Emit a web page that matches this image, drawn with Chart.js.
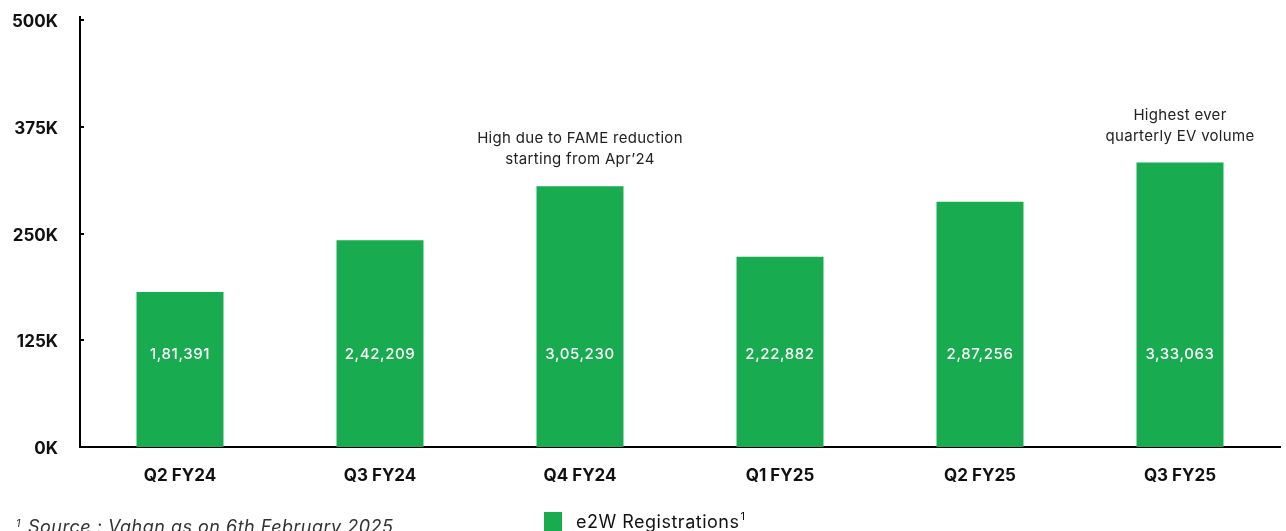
<!DOCTYPE html>
<html>
<head>
<meta charset="utf-8">
<script src="https://cdn.jsdelivr.net/npm/chart.js@4.4.1/dist/chart.umd.min.js"></script>
<style>
  html, body { margin: 0; padding: 0; background: #ffffff; }
  #wrap { width: 1286px; height: 531px; position: relative; }
</style>
</head>
<body>
<div id="wrap"><canvas id="c" width="1286" height="531"></canvas></div>
<script>
const categories = ['Q2 FY24', 'Q3 FY24', 'Q4 FY24', 'Q1 FY25', 'Q2 FY25', 'Q3 FY25'];
const registrations = [181391, 242209, 305230, 222882, 287256, 333063];
const yTicks = [0, 125000, 250000, 375000, 500000];
const notes = [
  { index: 2, lines: ['High due to FAME reduction', 'starting from Apr\u201924'] },
  { index: 5, lines: ['Highest ever', 'quarterly EV volume'] }
];
const seriesName = 'e2W Registrations';
const seriesNoteMark = '1';
const footnote = 'Source : Vahan as on 6th February 2025';

const GREEN = '#19AB50';
const FONT = 'Inter, "Open Sans", sans-serif';

function indianFormat(n) {
  const s = String(Math.round(n));
  if (s.length <= 3) return s;
  const last3 = s.slice(-3);
  let rest = s.slice(0, -3);
  const parts = [];
  while (rest.length > 2) { parts.unshift(rest.slice(-2)); rest = rest.slice(0, -2); }
  if (rest) parts.unshift(rest);
  return parts.join(',') + ',' + last3;
}

const overlay = {
  id: 'overlay',
  afterDatasetsDraw(chart) {
    const ctx = chart.ctx;
    const meta = chart.getDatasetMeta(0);
    const y = chart.scales.y;
    const x = chart.scales.x;
    const area = chart.chartArea;
    ctx.save();
    // value labels inside bars
    ctx.fillStyle = '#ffffff';
    ctx.font = '500 15px ' + FONT;
    ctx.letterSpacing = '0.6px';
    ctx.textAlign = 'center';
    ctx.textBaseline = 'middle';
    const labelY = y.getPixelForValue(108000);
    meta.data.forEach((bar, i) => {
      ctx.fillText(indianFormat(registrations[i]), bar.x, labelY);
    });
    // annotations
    ctx.fillStyle = '#222222';
    ctx.font = '400 15px ' + FONT;
    ctx.letterSpacing = '0.3px';
    ctx.textBaseline = 'alphabetic';
    notes.forEach(n => {
      const bar = meta.data[n.index];
      const top = bar.y;
      const cnt = n.lines.length;
      n.lines.forEach((ln, k) => {
        ctx.fillText(ln, x.getPixelForValue(n.index), top - 22 - (cnt - 1 - k) * 21);
      });
    });
    // y axis line slightly extended above top tick, with inward tick stubs
    ctx.strokeStyle = '#000';
    ctx.lineWidth = 2;
    ctx.beginPath();
    ctx.moveTo(area.left, area.top - 4);
    ctx.lineTo(area.left, area.top + 1);
    ctx.stroke();
    yTicks.forEach(v => {
      const py = Math.round(y.getPixelForValue(v));
      ctx.beginPath();
      ctx.moveTo(area.left, py);
      ctx.lineTo(area.left + 4, py);
      ctx.stroke();
    });
    // legend
    const ds = chart.data.datasets[0];
    ctx.fillStyle = ds.backgroundColor;
    ctx.fillRect(544, 512, 18, 19);
    ctx.fillStyle = '#111111';
    ctx.textAlign = 'left';
    ctx.textBaseline = 'alphabetic';
    ctx.font = '400 18px ' + FONT;
    ctx.letterSpacing = '0.5px';
    ctx.fillText(ds.label, 576, 528);
    const lw = ctx.measureText(ds.label).width;
    ctx.font = '400 11px ' + FONT;
    ctx.letterSpacing = '0px';
    ctx.fillText(seriesNoteMark, 576 + lw + 1, 520);
    // footnote
    ctx.fillStyle = '#333333';
    ctx.font = 'italic 400 11px ' + FONT;
    ctx.fillText('1', 16, 527);
    ctx.font = 'italic 400 18px ' + FONT;
    ctx.letterSpacing = '0.5px';
    ctx.fillText(footnote, 28, 533);
    ctx.restore();
  }
};

new Chart(document.getElementById('c'), {
  type: 'bar',
  data: {
    labels: categories,
    datasets: [{
      label: seriesName,
      data: registrations,
      backgroundColor: GREEN,
      borderWidth: 0,
      barPercentage: 0.435,
      categoryPercentage: 1.0
    }]
  },
  options: {
    responsive: false,
    animation: false,
    layout: { padding: { top: 20, right: 6, left: 0, bottom: 0 } },
    plugins: {
      tooltip: { enabled: false },
      legend: { display: false }
    },
    scales: {
      x: {
        grid: { display: false, drawTicks: false },
        border: { display: true, color: '#000', width: 2 },
        ticks: {
          color: '#111', padding: 19,
          font: { family: FONT, size: 17, weight: '700' }
        },
        afterFit(scale) { scale.height = 84; scale.paddingLeft = 0; scale.paddingRight = 0; }
      },
      y: {
        min: 0, max: 500000,
        afterBuildTicks(scale) { scale.ticks = yTicks.map(v => ({ value: v })); },
        grid: { display: false, drawTicks: false },
        border: { display: true, color: '#000', width: 2 },
        ticks: {
          color: '#111', padding: 22, labelOffset: 2,
          font: { family: FONT, size: 17, weight: '700' },
          callback: v => (v / 1000) + 'K'
        },
        afterFit(scale) { scale.width = 80; scale.paddingTop = 0; scale.paddingBottom = 0; }
      }
    }
  },
  plugins: [overlay]
});
</script>
</body>
</html>
